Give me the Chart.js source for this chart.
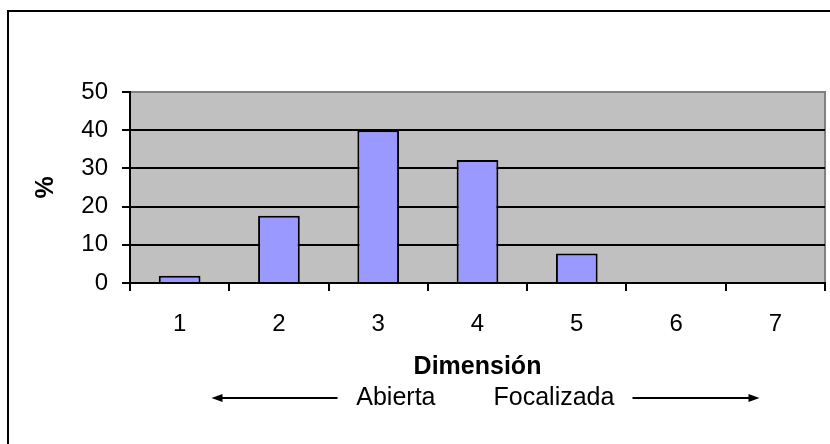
<!DOCTYPE html>
<html>
<head>
<meta charset="utf-8">
<script src="https://cdn.jsdelivr.net/npm/chart.js@4/dist/chart.umd.min.js"></script>
<style>
  body{margin:0;background:#fff;}
  canvas{display:block;}
</style>
</head>
<body>
<canvas id="grafico" width="830" height="444"></canvas>
<script>
// Datos
const categorias=["1","2","3","4","5","6","7"];
const porcentajes=[1.9,17.6,40,32.2,7.7,0,0];
const ejeY={min:0,max:50,paso:10};
const tituloX="Dimensión";
const tituloY="%";
const extremos=["Abierta","Focalizada"];

const fuente="'Liberation Sans', Arial, sans-serif";

// fondo gris del area y marco exterior
const fondo={
  id:"fondo",
  beforeDraw(chart){
    const {ctx,chartArea:a}=chart;
    ctx.save();
    ctx.fillStyle="#C0C0C0";
    ctx.fillRect(a.left,a.top,a.right-a.left,a.bottom-a.top);
    ctx.strokeStyle="#808080";
    ctx.lineWidth=2;
    ctx.beginPath();
    ctx.moveTo(a.left,a.top);
    ctx.lineTo(a.right,a.top);
    ctx.lineTo(a.right,a.bottom);
    ctx.stroke();
    // marco
    ctx.strokeStyle="#000";
    ctx.beginPath();
    ctx.moveTo(8,444);
    ctx.lineTo(8,11);
    ctx.lineTo(830,11);
    ctx.stroke();
    ctx.restore();
  }
};

// linea "<--- Abierta   Focalizada --->"
const flechas={
  id:"flechas",
  afterDraw(chart){
    const {ctx,chartArea:a}=chart;
    const c=(a.left+a.right)/2;
    const y=398;
    ctx.save();
    ctx.fillStyle="#000";
    ctx.strokeStyle="#000";
    ctx.font="25px "+fuente;
    ctx.textBaseline="middle";
    ctx.textAlign="right";
    ctx.fillText(extremos[0],c-42,y);
    ctx.textAlign="left";
    ctx.fillText(extremos[1],c+16,y);
    ctx.lineWidth=2;
    ctx.beginPath();
    ctx.moveTo(c-256,y);ctx.lineTo(c-140,y);
    ctx.moveTo(c+155,y);ctx.lineTo(c+272,y);
    ctx.stroke();
    ctx.beginPath();
    ctx.moveTo(c-266,y);ctx.lineTo(c-255,y-4);ctx.lineTo(c-255,y+4);ctx.closePath();
    ctx.moveTo(c+282,y);ctx.lineTo(c+271,y-4);ctx.lineTo(c+271,y+4);ctx.closePath();
    ctx.fill();
    ctx.restore();
  }
};

new Chart(document.getElementById("grafico"),{
  type:"bar",
  data:{
    labels:categorias,
    datasets:[{
      data:porcentajes,
      backgroundColor:"#9999FF",
      borderColor:"#000",
      borderWidth:2,
      barPercentage:0.42,
      categoryPercentage:1
    }]
  },
  options:{
    responsive:false,
    animation:false,
    layout:{padding:{top:92,right:5,left:0,bottom:0}},
    plugins:{legend:{display:false},tooltip:{enabled:false}},
    scales:{
      x:{
        afterFit(s){s.height=161;},
        grid:{drawOnChartArea:false,drawTicks:true,tickLength:8,color:"#000",lineWidth:2},
        border:{color:"#000",width:2},
        ticks:{color:"#000",font:{family:fuente,size:24},padding:19,maxRotation:0},
        title:{display:true,text:tituloX,color:"#000",font:{family:fuente,size:25,weight:"bold"},padding:{top:0,bottom:62}}
      },
      y:{
        min:ejeY.min,max:ejeY.max,
        afterFit(s){s.width=130;},
        grid:{
          color:c=>c.tick&&c.tick.value===ejeY.max?"rgba(0,0,0,0)":"#000",
          tickColor:"#000",lineWidth:2,tickLength:8
        },
        border:{color:"#000",width:2},
        ticks:{stepSize:ejeY.paso,color:"#000",font:{family:fuente,size:24},padding:14},
        title:{display:true,text:tituloY,color:"#000",font:{family:fuente,size:25,weight:"bold"},padding:{top:31,bottom:0}}
      }
    }
  },
  plugins:[fondo,flechas]
});
</script>
</body>
</html>
